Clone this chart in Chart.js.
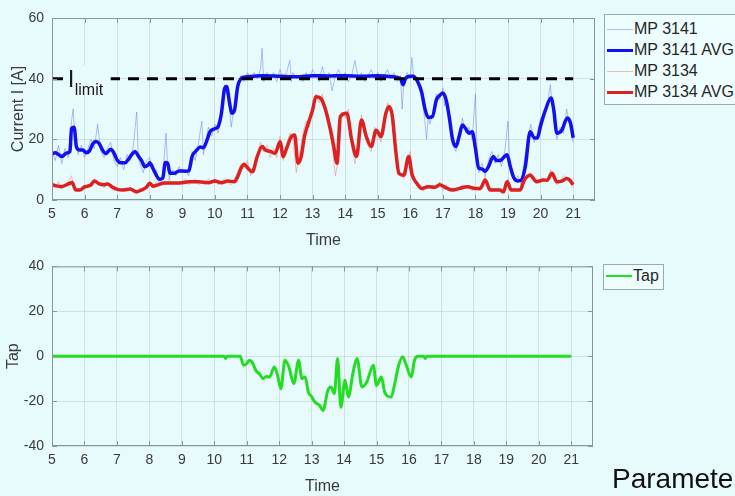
<!DOCTYPE html>
<html lang="en">
<head>
  <meta charset="UTF-8" />
  <title>Current and Tap</title>
  <script src="https://cdn.jsdelivr.net/npm/chart.js"></script>
  <style>
    body { margin: 0; background: #e8fbfc; font-family: 'Liberation Sans', Arial, sans-serif; overflow: hidden; }
    .wrap { position: absolute; left: 0; width: 735px; }
    .legend { position: absolute; border: 1px solid #9aabab; background: #eefdfd; font-size: 16px; line-height: 18px; color: #262626; }
    .legend .item { position: absolute; left: 0; white-space: nowrap; }
    .legend .line { position: absolute; left: 2px; width: 26px; }
    .legend .txt { position: absolute; left: 29px; }
    .footer { position: absolute; left: 612px; top: 463px; font-size: 28px; color: #111; white-space: nowrap; }
  </style>
</head>
<body>
<div class="wrap" style="top:0;height:250px;"><canvas id="currentChart" width="735" height="250"></canvas></div>
<div class="wrap" style="top:250px;height:246px;"><canvas id="tapChart" width="735" height="246"></canvas></div>

<div class="legend" style="left:604px;top:14px;width:140px;height:89px;">
  <div class="item" style="top:5px;"><span class="line" style="top:9px;height:1px;background:rgba(110,130,240,0.5);"></span><span class="txt">MP 3141</span></div>
  <div class="item" style="top:26px;"><span class="line" style="top:8px;height:3px;background:#1010f0;"></span><span class="txt">MP 3141 AVG</span></div>
  <div class="item" style="top:47px;"><span class="line" style="top:9px;height:1px;background:rgba(235,120,120,0.5);"></span><span class="txt">MP 3134</span></div>
  <div class="item" style="top:68px;"><span class="line" style="top:8px;height:3px;background:#dd2020;"></span><span class="txt">MP 3134 AVG</span></div>
</div>
<div class="legend" style="left:603px;top:264px;width:59px;height:24px;">
  <div class="item" style="top:2px;"><span class="line" style="top:8px;height:2px;background:#22dd22;"></span><span class="txt">Tap</span></div>
</div>
<div class="footer">Parameters</div>

<script>
// time in hours
const xTicks = [5, 6, 7, 8, 9, 10, 11, 12, 13, 14, 15, 16, 17, 18, 19, 20, 21];
const iLimit = 40;
const limitSpan = [5, 21];

const blueRaw = [[5.0,16],[5.1,13],[5.2,18],[5.3,12],[5.4,17],[5.5,14],[5.6,26],[5.65,30],[5.7,21],[5.8,15],[5.9,18],
  [6.0,14],[6.1,17],[6.2,20],[6.3,17],[6.4,25],[6.5,16],[6.6,14],[6.7,17],[6.8,19],[6.9,13],[7.0,11],[7.1,14],[7.2,10],
  [7.3,15],[7.4,13],[7.5,18],[7.6,29],[7.65,14],[7.7,12],[7.8,9],[7.9,13],[8.0,14],[8.1,9],[8.2,10],[8.3,5],[8.4,8],
  [8.5,22],[8.55,11],[8.6,7],[8.7,10],[8.8,8],[8.9,11],[9.0,9],[9.1,10],[9.2,8],[9.3,16],[9.4,13],[9.5,19],[9.6,26],
  [9.65,15],[9.7,18],[9.8,24],[9.9,21],[10.0,25],[10.1,22],[10.2,30],[10.3,38],[10.35,35],[10.4,37],[10.5,24],[10.6,31],
  [10.7,38],[10.8,41],[10.9,39],[11.0,42],[11.1,40],[11.2,42],[11.3,40],[11.4,43],[11.45,50],[11.5,39],[11.6,42],[11.7,40],
  [11.8,42],[11.9,39],[12.0,43],[12.1,40],[12.2,42],[12.3,46],[12.35,39],[12.4,42],[12.5,40],[12.6,41],[12.7,39],[12.8,42],
  [12.9,40],[13.0,43],[13.1,41],[13.2,39],[13.3,44],[13.4,40],[13.5,42],[13.6,36],[13.7,41],[13.8,43],[13.9,40],[14.0,42],
  [14.1,39],[14.2,41],[14.3,46],[14.4,40],[14.5,42],[14.6,39],[14.7,41],[14.8,43],[14.9,40],[15.0,42],[15.1,39],[15.2,41],
  [15.3,43],[15.4,40],[15.5,42],[15.6,39],[15.7,41],[15.75,30],[15.8,39],[15.9,42],[16.0,40],[16.05,47],[16.1,41],[16.2,39],
  [16.3,36],[16.4,31],[16.5,20],[16.55,28],[16.6,25],[16.7,29],[16.8,35],[16.9,33],[17.0,37],[17.05,31],[17.1,34],[17.2,26],
  [17.3,18],[17.4,16],[17.5,22],[17.6,27],[17.7,22],[17.8,24],[17.9,20],[18.0,35],[18.05,16],[18.1,9],[18.2,12],[18.3,8],
  [18.4,13],[18.5,16],[18.6,12],[18.7,15],[18.8,11],[18.9,16],[19.0,26],[19.05,12],[19.1,9],[19.2,6],[19.3,8],[19.4,5],
  [19.5,13],[19.6,20],[19.7,25],[19.8,19],[19.9,22],[20.0,27],[20.1,28],[20.2,31],[20.3,38],[20.35,32],[20.4,28],[20.5,20],
  [20.6,24],[20.7,22],[20.8,30],[20.9,24],[21.0,19]];

const blueAvg = [[5.0,15.2],[5.1,15.6],[5.2,15.0],[5.3,14.3],[5.45,15.5],[5.55,16],[5.6,23.5],[5.68,24],[5.75,17.5],
  [5.85,16.5],[5.95,16.5],[6.05,15.6],[6.15,16.2],[6.25,18.5],[6.35,19.3],[6.45,18.6],[6.55,16.5],[6.65,15.3],[6.8,16.7],
  [6.9,15.5],[7.0,13.2],[7.1,12.3],[7.25,12.3],[7.35,13.5],[7.45,15],[7.55,16],[7.65,14.5],[7.75,13],[7.85,11],[7.95,11.5],
  [8.0,12.3],[8.1,10.4],[8.2,8.2],[8.3,6.8],[8.4,7.2],[8.48,12.4],[8.55,12.2],[8.62,8.8],[8.75,8.8],[8.9,9.6],[9.1,9.5],
  [9.2,9.6],[9.3,14.3],[9.45,16.5],[9.55,17.5],[9.65,17.2],[9.75,19.5],[9.85,22.5],[10.0,23.5],[10.1,24.2],[10.2,28.5],
  [10.3,36.8],[10.36,37.4],[10.45,32],[10.52,28.6],[10.6,29.5],[10.7,37.4],[10.8,40],[10.9,40.5],[11.2,40.8],[11.5,41],
  [12.0,40.8],[12.5,40.6],[13.0,41],[13.5,40.9],[14.0,41],[14.5,40.8],[15.0,41],[15.5,40.6],[15.7,40],[15.78,38],[15.85,40],
  [16.0,40.8],[16.1,40.8],[16.25,38.5],[16.35,35.5],[16.45,30],[16.55,27.2],[16.68,27.5],[16.8,33],[16.9,34.5],[17.0,35.3],
  [17.1,33],[17.2,27],[17.3,19.8],[17.4,17.6],[17.5,21],[17.6,24.7],[17.7,23.5],[17.8,22],[17.9,22.5],[18.0,17],[18.1,10.5],
  [18.2,10.2],[18.3,9.5],[18.4,11],[18.55,14.3],[18.65,13],[18.75,13],[18.97,14.9],[19.07,11],[19.17,7.5],[19.3,6.3],
  [19.4,6.5],[19.53,11],[19.68,22.5],[19.8,20.5],[19.9,20.4],[20.0,24.5],[20.15,29.7],[20.32,33.6],[20.4,30],[20.5,22],
  [20.65,23],[20.82,27],[20.92,25.3],[21.0,20.5]];

const redRaw = [[5.0,5],[5.1,4],[5.2,6],[5.3,4],[5.4,5],[5.5,6],[5.6,8],[5.7,3],[5.8,4],[5.9,3],[6.0,5],[6.1,4],[6.2,6],
  [6.3,7],[6.4,5],[6.5,6],[6.6,4],[6.7,6],[6.8,4],[6.9,3],[7.0,4],[7.1,3],[7.2,4],[7.3,3],[7.4,4],[7.5,3],[7.6,2],[7.7,4],
  [7.8,3],[7.9,5],[8.0,6],[8.1,4],[8.2,6],[8.3,5],[8.4,6],[8.5,5],[8.6,7],[8.7,5],[8.8,6],[8.9,5],[9.0,6],[9.1,7],[9.2,5],
  [9.3,6],[9.4,7],[9.5,5],[9.6,6],[9.7,5],[9.8,7],[9.9,6],[10.0,7],[10.1,5],[10.2,6],[10.3,7],[10.4,6],[10.5,5],[10.6,7],
  [10.7,9],[10.8,12],[10.9,11],[11.0,13],[11.1,8],[11.2,11],[11.3,15],[11.4,19],[11.5,16],[11.6,18],[11.7,14],[11.8,17],
  [11.9,14],[12.0,21],[12.1,13],[12.2,18],[12.3,22],[12.4,20],[12.5,9],[12.6,15],[12.7,22],[12.8,26],[12.9,24],[13.0,31],
  [13.1,35],[13.2,32],[13.3,35],[13.4,28],[13.5,24],[13.6,18],[13.7,8],[13.8,14],[13.9,29],[14.0,27],[14.1,30],[14.2,18],
  [14.3,12],[14.4,20],[14.5,28],[14.6,22],[14.7,18],[14.8,16],[14.9,24],[15.0,22],[15.1,19],[15.2,27],[15.3,32],[15.4,29],
  [15.5,20],[15.6,12],[15.7,8],[15.8,7],[15.9,12],[16.0,16],[16.1,7],[16.2,5],[16.3,4],[16.4,3],[16.5,5],[16.6,4],[16.7,5],
  [16.8,4],[16.9,6],[17.0,3],[17.1,5],[17.2,3],[17.3,4],[17.4,3],[17.5,4],[17.6,5],[17.7,4],[17.8,5],[17.9,3],[18.0,4],
  [18.1,3],[18.2,5],[18.3,8],[18.4,3],[18.5,4],[18.6,3],[18.7,4],[18.8,2],[18.9,3],[19.0,7],[19.1,3],[19.2,4],[19.3,3],
  [19.4,4],[19.5,7],[19.6,8],[19.7,9],[19.8,6],[19.9,7],[20.0,6],[20.1,7],[20.2,6],[20.3,10],[20.4,7],[20.5,5],[20.6,6],
  [20.7,8],[20.8,7],[20.9,6],[21.0,4]];

const redAvg = [[5.0,5],[5.3,4.4],[5.5,5.3],[5.62,5.8],[5.72,3.4],[5.85,3.3],[6.0,4.3],[6.2,5],[6.3,6.3],[6.45,5.3],
  [6.6,5],[6.7,5.3],[6.85,4.3],[7.0,3.5],[7.2,3.3],[7.4,3.6],[7.6,2.7],[7.75,3.3],[7.9,4.2],[8.0,5.5],[8.1,4.5],[8.25,5],
  [8.45,5.6],[8.7,5.6],[9.0,5.7],[9.2,6],[9.5,6],[9.8,5.7],[10.0,6.3],[10.2,5.7],[10.4,6.3],[10.6,6],[10.7,7.7],[10.8,10.4],
  [10.9,11.8],[11.0,10.6],[11.15,9.3],[11.3,14.3],[11.45,17.6],[11.55,16.5],[11.7,16],[11.85,15.4],[12.0,19.2],[12.1,14.3],
  [12.2,17],[12.35,20.9],[12.45,21.4],[12.55,12.1],[12.65,14.3],[12.75,20.9],[12.85,24.7],[13.0,29.7],[13.1,34],[13.25,33.5],
  [13.4,29.7],[13.55,23],[13.65,17.6],[13.75,12.1],[13.85,27.5],[14.05,28.6],[14.2,19.8],[14.35,14.3],[14.5,26.4],
  [14.65,20.9],[14.8,17.6],[14.95,23],[15.1,20.9],[15.25,28.6],[15.35,30.8],[15.45,27.5],[15.55,16.5],[15.65,8.8],
  [15.8,8.2],[15.95,14.3],[16.05,8.5],[16.2,5.5],[16.35,3.8],[16.55,4.4],[16.75,4.2],[16.9,5],[17.1,4],[17.3,3.3],
  [17.5,3.8],[17.75,4.4],[18.0,3.8],[18.15,3.8],[18.3,6.6],[18.45,3.3],[18.75,3.3],[18.86,2.7],[18.97,6],[19.1,3.3],
  [19.37,3.3],[19.5,6.6],[19.68,8.2],[19.88,6],[20.08,6.6],[20.2,6.5],[20.35,8.8],[20.5,6],[20.65,6.2],[20.8,7.1],
  [20.9,6.5],[21.0,5]];

const tap = [[5,0],[10.3,0],[10.35,-1],[10.4,0],[10.8,0],[10.9,-4],[11.0,-3.3],[11.08,-1.8],[11.18,-3],[11.28,-6.3],
  [11.4,-8],[11.5,-10],[11.6,-9],[11.7,-9.3],[11.85,-4.8],[11.95,-8.5],[12.05,-14.5],[12.18,-1.8],[12.3,-4.8],[12.45,-12.2],
  [12.6,-1.8],[12.7,-10],[12.8,-9.3],[12.9,-16],[13.0,-18],[13.1,-20.4],[13.25,-22],[13.35,-24.2],[13.5,-15.2],[13.6,-13.7],
  [13.7,-16.7],[13.8,-1],[13.9,-22.7],[14.03,-10.7],[14.13,-18.2],[14.28,-7],[14.4,-1],[14.55,-13.7],[14.7,-11.5],[14.9,-4],
  [15.0,-13],[15.15,-9.3],[15.25,-16],[15.45,-18.2],[15.55,-13],[15.67,-4.8],[15.8,-0.3],[15.9,-3.3],[16.07,-9.3],
  [16.17,-1.8],[16.27,0],[16.45,0],[16.5,-1],[16.55,0],[21,0]];

const FONT = "'Liberation Sans', Arial, sans-serif";
const TXT = '#3a3a3a';
const GRID = 'rgba(38,38,38,0.12)';
const pts = arr => arr.map(p => ({ x: p[0], y: p[1] }));

// matlab style box with inward tick marks
const boxPlugin = {
  id: 'box',
  afterDatasetsDraw(chart) {
    const { ctx, chartArea: a, scales } = chart;
    ctx.save();
    ctx.strokeStyle = '#8a9696';
    ctx.lineWidth = 1;
    ctx.strokeRect(a.left + 0.5, a.top + 0.5, a.right - a.left - 1, a.bottom - a.top - 1);
    ctx.beginPath();
    scales.x.ticks.forEach(t => {
      const px = Math.round(scales.x.getPixelForValue(t.value)) + 0.5;
      ctx.moveTo(px, a.bottom); ctx.lineTo(px, a.bottom - 5);
      ctx.moveTo(px, a.top); ctx.lineTo(px, a.top + 5);
    });
    scales.y.ticks.forEach(t => {
      const py = Math.round(scales.y.getPixelForValue(t.value)) + 0.5;
      ctx.moveTo(a.left, py); ctx.lineTo(a.left + 5, py);
      ctx.moveTo(a.right, py); ctx.lineTo(a.right - 5, py);
    });
    ctx.stroke();
    ctx.restore();
  }
};

const limitLabel = {
  id: 'limitLabel',
  afterDatasetsDraw(chart) {
    const { ctx, scales } = chart;
    const x = scales.x.getPixelForValue(5.36);
    const y = scales.y.getPixelForValue(iLimit);
    ctx.save();
    ctx.fillStyle = '#e8fbfc';
    ctx.fillRect(x, y - 13, 47, 28);
    ctx.fillStyle = '#1a1a1a';
    ctx.font = '24px ' + FONT;
    ctx.textBaseline = 'alphabetic';
    ctx.fillText('I', x + 4, y + 8);
    ctx.font = '16px ' + FONT;
    ctx.fillText('limit', x + 11, y + 16);
    ctx.restore();
  }
};

function xScale() {
  return {
    type: 'linear', min: 5, max: 21.67,
    afterBuildTicks: s => { s.ticks = xTicks.map(v => ({ value: v })); },
    afterFit: s => { s.height = 50; },
    grid: { color: GRID, drawTicks: false },
    border: { display: false },
    ticks: { padding: 6, color: TXT, font: { family: FONT, size: 14 }, maxRotation: 0 },
    title: { display: true, text: 'Time', color: TXT, font: { family: FONT, size: 16 }, padding: { bottom: 0 } }
  };
}
function yScale(min, max, label, pad) {
  return {
    min, max,
    afterFit: s => { s.width = 52; },
    grid: { color: GRID, drawTicks: false },
    border: { display: false },
    ticks: { stepSize: 20, padding: 8, color: TXT, font: { family: FONT, size: 14 } },
    title: { display: true, text: label, color: TXT, font: { family: FONT, size: 16 }, padding: { top: pad } }
  };
}

const common = {
  responsive: false,
  animation: false,
  devicePixelRatio: 1,
  plugins: { legend: { display: false }, tooltip: { enabled: false } },
  elements: { point: { radius: 0 } }
};

new Chart(document.getElementById('currentChart'), {
  type: 'line',
  data: {
    datasets: [
      { label: 'I limit', data: pts([[limitSpan[0], iLimit], [limitSpan[1], iLimit]]), borderColor: '#000', borderWidth: 3, borderDash: [11, 8], order: 0 },
      { label: 'MP 3134 AVG', data: pts(redAvg), borderColor: '#dd2020', borderWidth: 3.5, cubicInterpolationMode: 'monotone', order: 1 },
      { label: 'MP 3134', data: pts(redRaw), borderColor: 'rgba(235,110,110,0.45)', borderWidth: 1, order: 2 },
      { label: 'MP 3141 AVG', data: pts(blueAvg), borderColor: '#1010f0', borderWidth: 3.5, cubicInterpolationMode: 'monotone', order: 3 },
      { label: 'MP 3141', data: pts(blueRaw), borderColor: 'rgba(90,110,240,0.45)', borderWidth: 1, order: 4 }
    ]
  },
  options: {
    ...common,
    layout: { padding: { top: 18, right: 140, left: 0, bottom: 0 } },
    scales: { x: xScale(), y: yScale(0, 60, 'Current I [A]', 9) }
  },
  plugins: [boxPlugin, limitLabel]
});

new Chart(document.getElementById('tapChart'), {
  type: 'line',
  data: {
    datasets: [
      { label: 'Tap', data: pts(tap), borderColor: '#22dd22', borderWidth: 3, cubicInterpolationMode: 'monotone' }
    ]
  },
  options: {
    ...common,
    layout: { padding: { top: 16, right: 142, left: 0, bottom: 0 } },
    scales: { x: xScale(), y: yScale(-40, 40, 'Tap', 4) }
  },
  plugins: [boxPlugin]
});
</script>
</body>
</html>
